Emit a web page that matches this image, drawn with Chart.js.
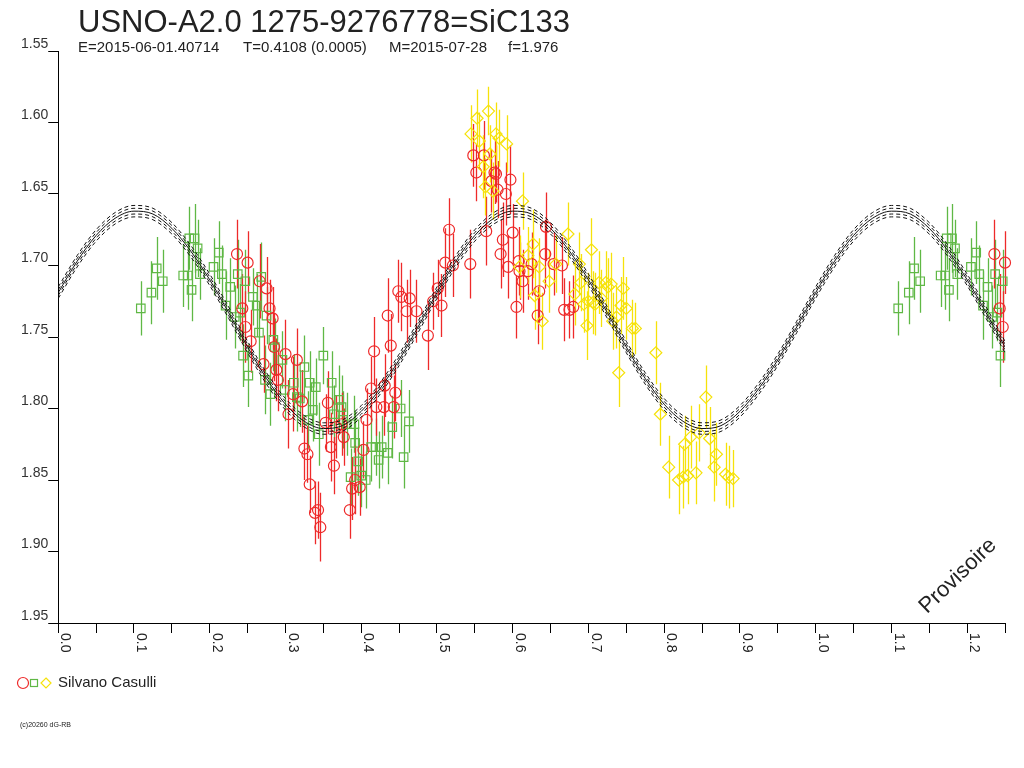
<!DOCTYPE html>
<html>
<head>
<meta charset="utf-8">
<title>USNO-A2.0 1275-9276778=SiC133</title>
<script src="https://cdn.jsdelivr.net/npm/chart.js@4/dist/chart.umd.min.js"></script>
<style>
  html, body { margin: 0; padding: 0; background: #fff; }
  canvas { display: block; }
</style>
</head>
<body>
<canvas id="lc" width="1024" height="768"></canvas>
<script>
// ---- textes ----
const TITLE = 'USNO-A2.0 1275-9276778=SiC133';
const SUBTITLE = ['E=2015-06-01.40714', 'T=0.4108 (0.0005)', 'M=2015-07-28', 'f=1.976'];
const OBSERVER = 'Silvano Casulli';
const CREDIT = '(c)20260 dG-RB';
const STAMP = 'Provisoire';

// ---- axes ----
const Y_TICKS = [1.55, 1.60, 1.65, 1.70, 1.75, 1.80, 1.85, 1.90, 1.95];
const X_TICKS = [0, 0.05, 0.1, 0.15, 0.2, 0.25, 0.3, 0.35, 0.4, 0.45, 0.5, 0.55, 0.6,
                 0.65, 0.7, 0.75, 0.8, 0.85, 0.9, 0.95, 1.0, 1.05, 1.1, 1.15, 1.2, 1.25];
const X_LABELS = ['0.0', '0.1', '0.2', '0.3', '0.4', '0.5', '0.6', '0.7', '0.8', '0.9', '1.0', '1.1', '1.2'];

// ---- courbe modèle (phase, magnitude) ----
const MODEL_PHASE = [0, 0.025, 0.05, 0.075, 0.1, 0.125, 0.15, 0.175, 0.2, 0.225, 0.25, 0.275, 0.3,
  0.325, 0.35, 0.375, 0.4, 0.425, 0.45, 0.475, 0.5, 0.525, 0.55, 0.575, 0.6, 0.625, 0.65, 0.675,
  0.7, 0.725, 0.75, 0.775, 0.8, 0.825, 0.85, 0.875, 0.9, 0.925, 0.95, 0.975, 1.0, 1.025, 1.05,
  1.075, 1.1, 1.125, 1.15, 1.175, 1.2, 1.225, 1.25];
const MODEL_MAG = [1.719, 1.697, 1.679, 1.667, 1.662, 1.664, 1.674, 1.690, 1.710, 1.733, 1.757,
  1.779, 1.797, 1.809, 1.814, 1.812, 1.802, 1.786, 1.766, 1.743, 1.719, 1.697, 1.679, 1.667,
  1.662, 1.664, 1.674, 1.690, 1.710, 1.733, 1.757, 1.779, 1.797, 1.809, 1.814, 1.812, 1.802,
  1.786, 1.766, 1.743, 1.719, 1.697, 1.679, 1.667, 1.662, 1.664, 1.674, 1.690, 1.710, 1.733, 1.757];
const MODEL_BAND = [-0.004, -0.002, 0.002, 0.004];

// ---- mesures [phase, mag, erreur] ----
const RED_PTS = [
  [0.236,1.692,.024],[0.250,1.698,.022],[0.266,1.711,.026],[0.275,1.716,.022],[0.243,1.730,.024],
  [0.279,1.730,.020],[0.283,1.737,.022],[0.247,1.743,.025],[0.254,1.753,.022],[0.285,1.757,.024],
  [0.271,1.769,.020],[0.300,1.762,.024],[0.315,1.766,.022],[0.310,1.790,.026],[0.322,1.795,.022],
  [0.304,1.804,.024],[0.288,1.773,.022],[0.290,1.780,.022],[0.325,1.828,.022],[0.329,1.832,.020],
  [0.332,1.853,.020],[0.339,1.873,.022],[0.343,1.871,.020],[0.346,1.883,.024],[0.356,1.796,.022],
  [0.353,1.810,.020],[0.360,1.827,.024],[0.364,1.840,.020],[0.367,1.813,.022],[0.377,1.820,.020],
  [0.374,1.811,.022],[0.385,1.871,.020],[0.388,1.856,.022],[0.398,1.855,.020],[0.392,1.850,.024],
  [0.407,1.808,.022],[0.403,1.829,.020],[0.420,1.799,.020],[0.413,1.786,.022],[0.430,1.799,.020],
  [0.431,1.784,.022],[0.445,1.789,.020],[0.443,1.799,.022],[0.417,1.760,.024],[0.439,1.756,.022],
  [0.435,1.735,.026],[0.449,1.718,.022],[0.453,1.722,.024],[0.460,1.732,.022],[0.464,1.723,.020],
  [0.473,1.732,.022],[0.488,1.749,.024],[0.495,1.725,.020],[0.506,1.728,.022],[0.501,1.716,.020],
  [0.511,1.698,.024],[0.521,1.700,.022],[0.516,1.675,.022],[0.544,1.699,.024],[0.548,1.623,.022],
  [0.562,1.623,.024],[0.552,1.635,.020],[0.576,1.635,.022],[0.578,1.636,.020],[0.572,1.641,.022],
  [0.580,1.647,.020],[0.591,1.650,.022],[0.597,1.640,.024],[0.565,1.676,.024],[0.587,1.682,.026],
  [0.600,1.677,.020],[0.584,1.692,.024],[0.594,1.701,.022],[0.608,1.697,.024],[0.609,1.704,.020],
  [0.605,1.729,.022],[0.633,1.735,.020],[0.635,1.718,.022],[0.643,1.692,.024],[0.654,1.699,.022],
  [0.665,1.700,.020],[0.668,1.731,.022],[0.675,1.731,.020],[0.680,1.729,.022],[0.644,1.673,.024],
  [0.613,1.711,.022],[0.620,1.704,.020],[0.625,1.699,.022]
];
const GREEN_PTS = [
  [0.109,1.730,.019],[0.123,1.719,.022],[0.130,1.702,.022],[0.138,1.711,.022],[0.165,1.707,.022],
  [0.171,1.707,.024],[0.173,1.681,.022],[0.180,1.681,.024],[0.184,1.688,.020],[0.176,1.717,.022],
  [0.187,1.706,.018],[0.212,1.691,.022],[0.205,1.701,.020],[0.216,1.706,.020],[0.227,1.715,.020],
  [0.221,1.728,.024],[0.237,1.706,.024],[0.247,1.711,.022],[0.268,1.708,.024],[0.257,1.722,.020],
  [0.262,1.728,.022],[0.275,1.735,.020],[0.265,1.747,.022],[0.284,1.752,.022],[0.286,1.757,.020],
  [0.296,1.766,.020],[0.244,1.763,.022],[0.251,1.777,.022],[0.273,1.780,.024],[0.280,1.790,.022],
  [0.299,1.787,.022],[0.311,1.782,.020],[0.325,1.771,.022],[0.315,1.792,.024],[0.319,1.793,.020],
  [0.332,1.782,.022],[0.340,1.785,.020],[0.336,1.801,.022],[0.330,1.808,.020],[0.344,1.818,.022],
  [0.233,1.736,.022],[0.240,1.733,.020],[0.350,1.763,.020],[0.361,1.782,.022],[0.371,1.794,.024],
  [0.364,1.804,.020],[0.374,1.799,.022],[0.376,1.808,.020],[0.381,1.811,.022],[0.391,1.811,.020],
  [0.392,1.824,.022],[0.396,1.837,.024],[0.386,1.848,.020],[0.400,1.847,.022],[0.406,1.850,.020],
  [0.413,1.827,.024],[0.419,1.827,.020],[0.427,1.827,.022],[0.423,1.836,.020],[0.435,1.831,.022],
  [0.441,1.813,.022],[0.452,1.800,.020],[0.463,1.809,.022],[0.456,1.834,.022]
];
const YELLOW_PTS = [
  [0.568,1.592,.017],[0.553,1.597,.020],[0.545,1.608,.020],[0.556,1.613,.020],[0.578,1.608,.022],
  [0.582,1.611,.020],[0.592,1.615,.020],[0.570,1.622,.020],[0.561,1.631,.022],[0.564,1.645,.020],
  [0.574,1.648,.020],[0.613,1.655,.020],[0.673,1.678,.022],[0.704,1.689,.022],[0.627,1.685,.024],
  [0.620,1.693,.020],[0.609,1.701,.022],[0.635,1.701,.020],[0.648,1.711,.022],[0.657,1.699,.020],
  [0.629,1.721,.024],[0.639,1.739,.020],[0.682,1.720,.022],[0.690,1.712,.020],[0.688,1.699,.022],
  [0.694,1.727,.020],[0.698,1.742,.024],[0.706,1.726,.022],[0.700,1.725,.020],[0.709,1.727,.022],
  [0.714,1.712,.022],[0.717,1.723,.020],[0.723,1.712,.022],[0.726,1.715,.020],[0.730,1.713,.022],
  [0.746,1.716,.022],[0.743,1.728,.020],[0.750,1.730,.022],[0.732,1.739,.020],[0.737,1.736,.022],
  [0.758,1.744,.020],[0.762,1.744,.018],[0.789,1.761,.022],[0.740,1.775,.024],[0.795,1.804,.022],
  [0.855,1.792,.022],[0.806,1.841,.022],[0.819,1.850,.024],[0.825,1.848,.022],[0.831,1.847,.020],
  [0.842,1.845,.022],[0.827,1.825,.020],[0.835,1.820,.022],[0.846,1.817,.020],[0.860,1.821,.022],
  [0.869,1.832,.022],[0.866,1.841,.024],[0.881,1.846,.022],[0.891,1.849,.020],[0.885,1.848,.022]
];

const COL = {
  red: '#ee2a2a',
  green: '#5fb845',
  yellow: '#f6e20a',
  ink: '#222',
  model: '#111',
};
const FONT = '"Liberation Sans", Arial, sans-serif';
const PHASE_MAX = 1.25;

// le diagramme de phase est replié : on répète ce qui tombe sous 0.25 à phase+1
function unfold(pts) {
  const out = [];
  pts.forEach(p => {
    out.push({ x: p[0], y: p[1], e: p[2] });
    if (p[0] + 1 <= PHASE_MAX) out.push({ x: p[0] + 1, y: p[1], e: p[2] });
  });
  return out;
}

function modelLine(offset, dashed) {
  return {
    type: 'line',
    data: MODEL_PHASE.map((p, i) => ({ x: p, y: MODEL_MAG[i] + offset })),
    borderColor: COL.model,
    borderWidth: 1,
    borderDash: dashed ? [4, 3] : [],
    pointRadius: 0,
    fill: false,
    cubicInterpolationMode: 'monotone',
    showLine: true,
  };
}

function pointSet(pts, color, style, radius) {
  return {
    type: 'scatter',
    data: unfold(pts),
    pointStyle: style,
    pointRadius: radius,
    pointBorderWidth: 1.2,
    pointBorderColor: color,
    pointBackgroundColor: 'rgba(0,0,0,0)',
    borderColor: color,
    errColor: color,
    clip: 8,
  };
}

// barres d'erreur verticales, placées via l'échelle y
const errorBars = {
  id: 'errorBars',
  beforeDatasetsDraw(chart) {
    const { ctx, scales: { x, y } } = chart;
    ctx.save();
    ctx.lineWidth = 1.3;
    // même ordre que les marqueurs : du dernier au premier
    for (let i = chart.data.datasets.length - 1; i >= 0; i--) {
      const ds = chart.data.datasets[i];
      if (!ds.errColor) continue;
      ctx.strokeStyle = ds.errColor;
      ctx.beginPath();
      ds.data.forEach(d => {
        const px = Math.round(x.getPixelForValue(d.x)) + 0.5;
        ctx.moveTo(px, y.getPixelForValue(d.y - d.e));
        ctx.lineTo(px, y.getPixelForValue(d.y + d.e));
      });
      ctx.stroke();
    }
    ctx.restore();
  }
};

// textes : titre, étiquettes de phase tournées, légende, mention
const decor = {
  id: 'decor',
  afterDraw(chart) {
    const { ctx, scales: { x } } = chart;
    ctx.save();
    ctx.fillStyle = COL.ink;

    ctx.font = '31px ' + FONT;
    ctx.textBaseline = 'alphabetic';
    ctx.textAlign = 'left';
    ctx.fillText(TITLE, 78, 32);

    ctx.font = '15px ' + FONT;
    ctx.textBaseline = 'middle';
    const subX = [78, 243, 389, 508];
    SUBTITLE.forEach((s, i) => ctx.fillText(s, subX[i], 48));

    // étiquettes de l'axe des phases, lues de haut en bas
    ctx.font = '14px ' + FONT;
    const top = chart.chartArea.bottom + 10;
    X_LABELS.forEach(lbl => {
      const px = x.getPixelForValue(parseFloat(lbl));
      ctx.save();
      ctx.translate(px + 7, top);
      ctx.rotate(Math.PI / 2);
      ctx.textAlign = 'left';
      ctx.textBaseline = 'middle';
      ctx.fillText(lbl, 0, 0);
      ctx.restore();
    });

    // légende observateur
    ctx.lineWidth = 1.2;
    ctx.strokeStyle = COL.red;
    ctx.beginPath(); ctx.arc(23, 683, 5.5, 0, Math.PI * 2); ctx.stroke();
    ctx.strokeStyle = COL.green;
    ctx.strokeRect(30.5, 679.5, 7, 7);
    ctx.strokeStyle = COL.yellow;
    ctx.beginPath();
    ctx.moveTo(46, 678); ctx.lineTo(51, 683); ctx.lineTo(46, 688); ctx.lineTo(41, 683); ctx.closePath();
    ctx.stroke();
    ctx.font = '15px ' + FONT;
    ctx.fillText(OBSERVER, 58, 683);

    ctx.font = '7px ' + FONT;
    ctx.fillText(CREDIT, 20, 725);

    ctx.font = '22px ' + FONT;
    ctx.translate(958, 576);
    ctx.rotate(-44 * Math.PI / 180);
    ctx.textAlign = 'center';
    ctx.fillText(STAMP, 0, 0);
    ctx.restore();
  }
};

const datasets = [
  modelLine(0, false),
  ...MODEL_BAND.map(o => modelLine(o, true)),
  pointSet(YELLOW_PTS, COL.yellow, 'rectRot', 6),
  pointSet(RED_PTS, COL.red, 'circle', 5.5),
  pointSet(GREEN_PTS, COL.green, 'rect', 6),
];

new Chart(document.getElementById('lc'), {
  type: 'scatter',
  data: { datasets },
  options: {
    responsive: false,
    animation: false,
    devicePixelRatio: 1,
    layout: { padding: { left: 21, right: 19, top: 51, bottom: 135 } },
    plugins: {
      legend: { display: false },
      tooltip: { enabled: false },
    },
    scales: {
      x: {
        type: 'linear',
        min: 0,
        max: PHASE_MAX,
        afterBuildTicks: s => { s.ticks = X_TICKS.map(v => ({ value: v })); },
        ticks: { display: false },
        grid: { drawOnChartArea: false, tickLength: 10, color: '#000', lineWidth: 1 },
        border: { color: '#000', width: 1 },
      },
      y: {
        type: 'linear',
        reverse: true,
        min: 1.55,
        max: 1.95,
        afterBuildTicks: s => { s.ticks = Y_TICKS.map(v => ({ value: v })); },
        ticks: {
          callback: v => v.toFixed(2),
          font: { family: FONT, size: 14 },
          color: '#333',
          padding: 0,
          labelOffset: -7,
        },
        grid: { drawOnChartArea: false, tickLength: 10, color: '#000', lineWidth: 1 },
        border: { color: '#000', width: 1 },
      }
    }
  },
  plugins: [errorBars, decor]
});
</script>
</body>
</html>
